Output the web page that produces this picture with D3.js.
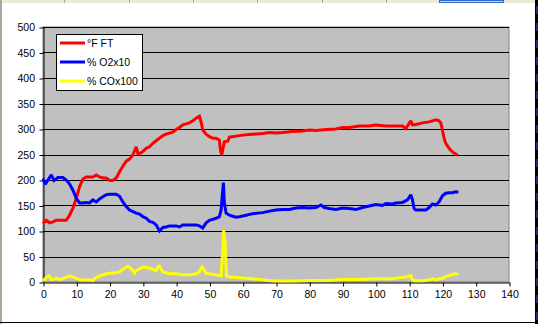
<!DOCTYPE html>
<html><head><meta charset="utf-8">
<script src="https://cdn.jsdelivr.net/npm/d3@7"></script>
<style>body{margin:0;background:#fff}svg{display:block}text{font-family:Arial,"Liberation Sans",sans-serif}</style>
</head><body>
<svg id="c" width="538" height="324"></svg>
<script>
// ---- data ----
const seriesNames = ["°F FT", "% O2x10", "% COx100"];
const xTicks = [0,10,20,30,40,50,60,70,80,90,100,110,120,130,140];
const yTicks = [0,50,100,150,200,250,300,350,400,450,500];

const tFT = [0,1,2,3,4,5,6,7,8,9,10,11,12,13,14,15,16,17,18,19,20,21,22,23,24,25,26,27,28,28.5,29,30,31,32,33,34,35,36,37,38,39,40,41,42,43,44,45,46,47,47.5,48,49,50,51,52,53,53.3,53.7,54,54.5,55.5,56,58,60,62,64,66,68,70,72,75,78,80,82,85,88,90,92,95,98,100,103,106,108,109,110,110.5,111,112,114,116,117,118,119,119.5,120,120.5,121,122,123,124,124.5];
const vFT = [115,121,116,118,121,121,121,121,131,145,164,187,202,206,206,206,210,206,204,204,199,199,204,216,227,237,241,249,265,252,252,256,262,265,272,277,282,287,290,292,294,299,303,308,310,312,316,321,325,314,298,290,285,282,282,278,259,249,259,275,276,284,286,288,289,290,291,293,292,293,295,296,298,297,299,300,303,303,306,306,308,306,306,306,301,311,316,308,309,312,314,316,318,316,312,298,282,272,262,255,251,248];

const tO2 = [0,0.7,1.5,2.5,3.3,4.5,6,7,8,9,10,11,12,13,14,15,16,17,18,19,20,21,22,23,24,25,26,27,28,29,30,31,32,33,34,35,36,37,38,40,41,42,44,46,47,48,49,50,52,53,53.5,54,54.2,54.5,55,56,57,58,59,61,63,66,68,70,72,74,76,78,80,82,83.5,84.5,86,88,90,92,94,96,98,100,102,103,105,106,108,109.5,110.5,111,111.5,112,115,116,117,118,119,120,121,122,123,124,124.8];
const vO2 = [203,192,200,210,199,205,205,200,192,180,164,155,155,156,155,161,157,163,167,171,172,172,172,168,157,148,141,138,135,133,128,125,119,117,112,100,107,108,110,110,108,112,112,112,110,106,116,121,125,128,141,180,195,154,135,131,129,127,128,131,134,136,139,141,142,142,145,146,145,146,151,146,144,142,145,144,142,146,149,152,150,154,153,155,156,161,171,161,144,141,141,146,153,151,157,169,174,175,175,177,176];

const tCO = [0,1,1.8,2.5,3,4,5,6,7,8,9,10,11,12,14,15,16,17,18,19,20,22,23,24,25,25.5,26,27,27.5,28,29,30,31,32,33,34,34.8,35.5,36,37,38,40,42,44,46,47,47.8,48.5,49,50,52,53.5,54,54.3,54.7,55.1,56,58,60,62,65,68,70,75,80,85,88,90,95,100,105,107,109,110.5,111,111.5,114,116,117,118,119,120,121,122,123,124,124.8];
const vCO = [2,9,12,5,5,7,5,7,9,12,10,7,5,4,4,3,9,12,14,16,17,18,20,25,29,31,29,22,18,22,26,29,29,27,25,22,33,25,20,18,16,16,14,14,16,20,31,22,17,16,14,12,60,102,75,12,10,9,8,7,5,3,2,2,3,3,4,5,5,6.5,6.5,8.5,10,12.6,4,2.6,2.6,4,6,4,6.5,7,10.5,12.6,14.6,16,15];

// ---- layout ----
const svg = d3.select("#c");
const W = 538, H = 324;
const P = {l: 43, r: 509, t: 27, b: 282};
const x = d3.scaleLinear().domain([0,140]).range([P.l, P.r]);
const y = d3.scaleLinear().domain([0,500]).range([P.b, P.t]);

// window chrome approximations
svg.append("rect").attr("x",0).attr("y",0).attr("width",W).attr("height",3).attr("fill","#ece9d8");
[64,129,193,257,322,386].forEach(v=>svg.append("line").attr("x1",v+0.5).attr("x2",v+0.5).attr("y1",0).attr("y2",3).attr("stroke","#aca899"));
svg.append("rect").attr("x",439.5).attr("y",0.5).attr("width",64).attr("height",2).attr("fill","#c1d2ee").attr("stroke","#316ac5");
svg.append("rect").attr("x",0).attr("y",0).attr("width",2).attr("height",H).attr("fill","#aca899");
svg.append("line").attr("x1",0).attr("x2",W).attr("y1",322.5).attr("y2",322.5).attr("stroke","#000");
svg.append("rect").attr("x",535).attr("y",0).attr("width",3).attr("height",H).attr("fill","#000");
d3.range(6,324,17).forEach(v=>svg.append("rect").attr("x",536).attr("y",v).attr("width",2).attr("height",8).attr("fill","#3c1a6e"));

// plot area
svg.append("rect").attr("x",P.l).attr("y",P.t).attr("width",P.r-P.l).attr("height",P.b-P.t)
  .attr("fill","#c0c0c0").attr("stroke","#808080").attr("stroke-width",1);

// gridlines
svg.append("g").selectAll("line").data(yTicks.filter(d=>d>0)).join("line")
  .attr("x1",P.l).attr("x2",P.r).attr("y1",d=>Math.round(y(d))+0.5).attr("y2",d=>Math.round(y(d))+0.5)
  .attr("stroke","#000").attr("stroke-width",1);

// axes
const yAxis = d3.axisLeft(y).tickValues(yTicks).tickSize(4).tickPadding(5).tickSizeOuter(0);
const gy = svg.append("g").attr("transform",`translate(${P.l+0.5},0.5)`).call(yAxis);
const xAxis = d3.axisBottom(x).tickValues(xTicks).tickSize(4).tickPadding(4).tickSizeOuter(0);
const gx = svg.append("g").attr("transform",`translate(0.5,${P.b+0.5})`).call(xAxis);
[gx,gy].forEach(g=>{
  g.select(".domain").attr("stroke","#000");
  g.selectAll(".tick line").attr("stroke","#000");
  g.selectAll("text").attr("fill","#000").style("font-size","10.5px").style("font-family","Arial, 'Liberation Sans', sans-serif");
});
gy.selectAll("text").attr("x",-8.5);

// lines
const colors = ["#ff0000","#0000ff","#ffff00"];
const sets = [[tFT,vFT],[tO2,vO2],[tCO,vCO]];
const line = d3.line().x(d=>x(d[0])).y(d=>y(d[1]));
sets.forEach((s,i)=>{
  const pts = s[0].map((t,j)=>[t,s[1][j]]);
  svg.append("path").datum(pts).attr("d",line).attr("fill","none")
    .attr("stroke",colors[i]).attr("stroke-width",3).attr("stroke-linejoin","miter").attr("stroke-miterlimit",2);
});
// draw order: yellow bottom? Excel draws in series order; keep.

// legend
const lg = svg.append("g");
lg.append("rect").attr("x",56.5).attr("y",34.5).attr("width",86).attr("height",56).attr("fill","#fff").attr("stroke","#000");
seriesNames.forEach((n,i)=>{
  const yy = 43 + i*19;
  lg.append("line").attr("x1",60).attr("x2",85).attr("y1",yy).attr("y2",yy).attr("stroke",colors[i]).attr("stroke-width",3);
  lg.append("text").attr("x",87).attr("y",yy).attr("dy","0.35em").style("font-size","10.5px").attr("fill","#000").text(n);
});
</script>
</body></html>
